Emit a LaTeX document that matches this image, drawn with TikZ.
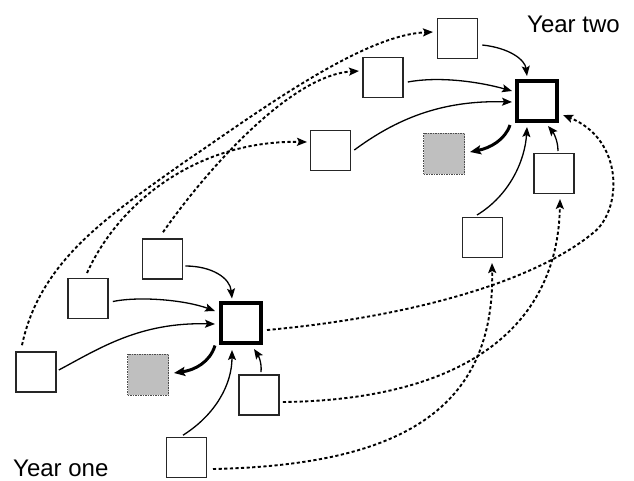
\documentclass[tikz,border=0pt]{standalone}
\usepackage{fontspec}
\setmainfont{Liberation Sans}
\usetikzlibrary{arrows.meta}
\begin{document}
\begin{tikzpicture}[x=1pt,y=-1pt,
 box/.style={draw=black!85, line width=1.6pt, minimum size=40pt, inner sep=0pt, fill=white},
 mainbox/.style={draw=black, line width=4pt, minimum size=40pt, inner sep=0pt, fill=white},
 graybox/.style={draw=black!70, line width=1pt, dash pattern=on 1.5pt off 1pt, fill=black!25, minimum size=41pt, inner sep=0pt},
 arr/.style={line width=1.3pt, -{Stealth[length=10pt,width=8pt,inset=2pt]}},
 thickarr/.style={line width=3pt, -{Stealth[length=11pt,width=9pt,inset=2pt]}},
 darr/.style={line width=1.9pt, dash pattern=on 3.2pt off 2.4pt, -{Stealth[length=10pt,width=8pt,inset=2pt]}},
 lbl/.style={font=\fontsize{24}{28}\selectfont, inner sep=0pt, anchor=base west}
]
\useasboundingbox (0,0) rectangle (634,480);

% Year two
\node[box] (T1) at (457.5,38.5) {};
\node[box] (T2) at (383,77.5) {};
\node[mainbox] (T3) at (536.5,100.5) {};
\node[box] (T4) at (330.5,150.5) {};
\node[graybox] (G2) at (444,153.5) {};
\node[box] (T5) at (554,173.5) {};
\node[box] (T6) at (482.5,237.5) {};

% Year one
\node[box] (O1) at (162.5,259) {};
\node[box] (O2) at (88,298.5) {};
\node[mainbox] (O3) at (241,322.5) {};
\node[box] (O4) at (36,372) {};
\node[graybox] (G1) at (148,374.5) {};
\node[box] (O5) at (259,395) {};
\node[box] (O6) at (186.5,457.5) {};

\node[lbl] (L2) at (527,32) {Year two};
\node[lbl] (L1) at (13,476) {Year one};

% Year one solid
\draw[arr] ([shift={(2,7)}]O1.east) .. controls (212,266) and (230,278) .. ([shift={(-9,-2)}]O3.north);
\draw[arr] ([shift={(4,3)}]O2.east) .. controls (140,296) and (185,300) .. ([shift={(-4,-11.5)}]O3.west);
\draw[arr] ([shift={(2,-2)}]O4.east) .. controls (100,348) and (140,322) .. ([shift={(-4,1.5)}]O3.west);
\draw[thickarr] ([shift={(-4,1)}]O3.south west) .. controls (210,362) and (195,370) .. ([shift={(5,-1.5)}]G1.east);
\draw[arr] ([shift={(-3.5,-1.5)}]O6.north) .. controls (215,415) and (232,385) .. ([shift={(-9,5.5)}]O3.south);
\draw[arr] ([shift={(2,-2)}]O5.north) .. controls (262,362) and (258,355) .. ([shift={(13,4.5)}]O3.south);

% Year two solid
\draw[arr] ([shift={(4,6.5)}]T1.east) .. controls (510,48) and (525,60) .. ([shift={(-9.5,-2.5)}]T3.north);
\draw[arr] ([shift={(4,4.5)}]T2.east) .. controls (440,76) and (480,82) .. ([shift={(-2.5,-9.5)}]T3.west);
\draw[arr] ([shift={(3,-0.5)}]T4.east) .. controls (395,120) and (440,100) .. ([shift={(-2.5,1.5)}]T3.west);
\draw[thickarr] ([shift={(-4.5,2.5)}]T3.south west) .. controls (505,140) and (490,148) .. ([shift={(5,-1.5)}]G2.east);
\draw[arr] ([shift={(-5.5,-1.7)}]T6.north) .. controls (510,195) and (525,160) .. ([shift={(-9.5,4.5)}]T3.south);
\draw[arr] ([shift={(4,-1.7)}]T5.north) .. controls (558,140) and (553,132) .. ([shift={(11.5,3.5)}]T3.south);

% dashed cross-lagged paths
\draw[darr] ([shift={(-14,-6)}]O4.north) .. controls (40,260) and (110,215) .. (183,163)
  .. controls (250,118) and (360,35) .. ([shift={(-3.7,-6.5)}]T1.west);
\draw[darr] ([shift={(0.5,-6)}]O1.north) .. controls (205,172) and (290,75) .. ([shift={(-3.2,-6.5)}]T2.west);
\draw[darr] ([shift={(-1,-4.7)}]O2.north) .. controls (120,200) and (200,140) .. ([shift={(-2.7,-8.5)}]T4.west);
\draw[darr] ([shift={(4,7.5)}]O3.east) .. controls (400,318) and (530,285) .. (593,233)
  .. controls (622,211) and (625,140) .. ([shift={(4.5,-7.5)}]T3.south east);
\draw[darr] ([shift={(3,7)}]O5.east) .. controls (460,400) and (558,330) .. ([shift={(6,4.7)}]T5.south);
\draw[darr] ([shift={(5.7,11.5)}]O6.east) .. controls (400,465) and (495,410) .. ([shift={(9.5,4.7)}]T6.south);
\end{tikzpicture}
\end{document}
